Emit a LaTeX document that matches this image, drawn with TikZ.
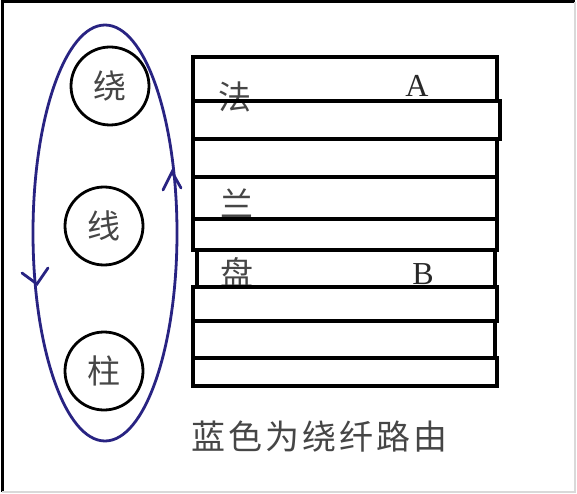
\documentclass[tikz,border=0pt]{standalone}
\usepackage{fontspec}
\newfontfamily\cjk{Noto Sans CJK SC}
\setmainfont{Liberation Serif}
\begin{document}
\begin{tikzpicture}[x=1pt,y=-1pt,
  strip/.style={draw=black,line width=3.3pt},
  post/.style={draw=black,line width=2.8pt,circle,minimum size=78pt,inner sep=0pt},
  route/.style={draw={rgb,255:red,40;green,35;blue,130},line width=2.8pt},
  cjktxt/.style={font=\cjk\fontsize{33}{35}\selectfont,text={rgb,255:red,70;green,70;blue,70},inner sep=0pt},
  lat/.style={font=\fontsize{32}{34}\selectfont,text={rgb,255:red,40;green,40;blue,40},inner sep=0pt}]
\useasboundingbox (0,0) rectangle (577,494);
\fill[white] (0,0) rectangle (577,494);
\draw[line width=3pt,black] (2,492) -- (2,2) -- (575,2);
\draw[line width=1.5pt,black!15] (575,2) -- (575,492) -- (2,492);
% route ellipse
\draw[route] (105,233) ellipse [x radius=72, y radius=208];
\coordinate (ra) at (172,172);
\coordinate (la) at (37,284);
\draw[route,line cap=round] (163,190) -- (ra) -- (181,188);
\draw[route,line cap=round] (22,273) -- (la) -- (48,268);
% posts
\node[post] (p1) at (110,86) {};
\node[cjktxt] at (p1) {绕};
\node[post] (p2) at (104,226) {};
\node[cjktxt] at (p2) {线};
\node[post] (p3) at (104,371) {};
\node[cjktxt] at (p3) {柱};
% flange text
\node[cjktxt] (t1) at (235,97) {法};
\node[cjktxt] (t2) at (237,203) {兰};
\node[cjktxt] (t3) at (237,272) {盘};
\node[lat] (ta) at (417,86) {A};
\node[lat] (tb) at (423,274) {B};
% strips
\draw[strip] (193,57) rectangle (497,101);
\draw[strip] (193,101) rectangle (500,139);
\draw[strip] (193,139) rectangle (497,177);
\draw[strip] (193,177) rectangle (497,219);
\draw[strip] (193,219) rectangle (497,250);
\draw[strip] (197,250) rectangle (495,287);
\draw[strip] (193,287) rectangle (497,321);
\draw[strip] (193,321) rectangle (495,358);
\draw[strip] (193,358) rectangle (497,386);
% caption
\node[cjktxt,font=\cjk\fontsize{34}{36}\selectfont,anchor=west] (cap) at (191,437) {蓝\hspace{3pt}色\hspace{3pt}为\hspace{3pt}绕\hspace{3pt}纤\hspace{3pt}路\hspace{3pt}由};
\end{tikzpicture}
\end{document}
